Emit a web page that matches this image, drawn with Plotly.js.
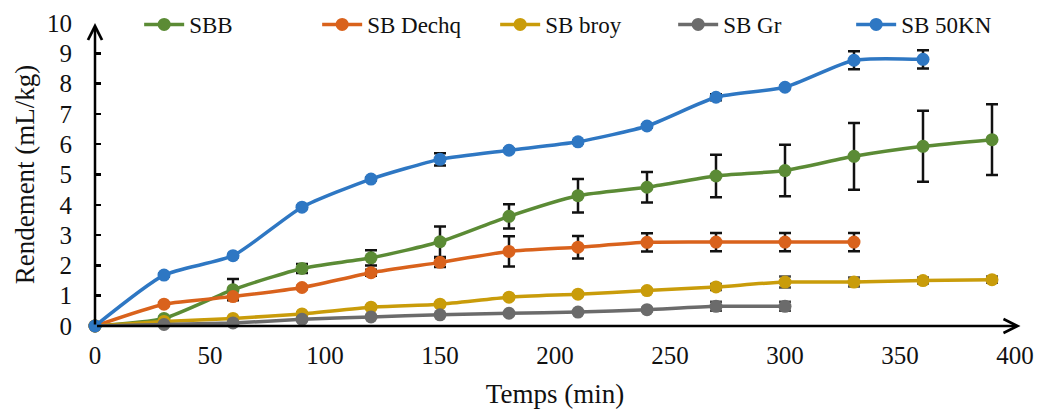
<!DOCTYPE html>
<html>
<head>
<meta charset="utf-8">
<script src="https://cdn.plot.ly/plotly-3.0.1.min.js"></script>
<style>html,body{margin:0;padding:0;background:#fff;}#chart{width:1042px;height:411px;}</style>
</head>
<body>
<div id="chart"></div>
<script>
// Time (min)
const time = [0, 30, 60, 90, 120, 150, 180, 210, 240, 270, 300, 330, 360, 390];

const seriesNames = ["SBB", "SB Dechq", "SB broy", "SB Gr", "SB 50KN"];

const sbb      = [0, 0.25, 1.2, 1.9, 2.25, 2.78, 3.62, 4.3, 4.58, 4.95, 5.13, 5.6, 5.93, 6.15];
const sbbErr   = [0, 0.05, 0.35, 0.15, 0.25, 0.5, 0.4, 0.55, 0.5, 0.7, 0.85, 1.1, 1.17, 1.17];

const dechq    = [0, 0.72, 0.97, 1.27, 1.76, 2.1, 2.46, 2.6, 2.76, 2.77, 2.77, 2.77];
const dechqErr = [0, 0.05, 0.05, 0.05, 0.1, 0.15, 0.5, 0.37, 0.3, 0.3, 0.3, 0.3];

const broy     = [0, 0.15, 0.25, 0.4, 0.62, 0.72, 0.95, 1.05, 1.17, 1.29, 1.45, 1.45, 1.5, 1.53];
const broyErr  = [0, 0.03, 0.03, 0.05, 0.05, 0.05, 0.05, 0.05, 0.05, 0.1, 0.18, 0.15, 0.1, 0.1];

const gr       = [0, 0.05, 0.1, 0.22, 0.3, 0.37, 0.42, 0.46, 0.54, 0.65, 0.65];
const grErr    = [0, 0.02, 0.02, 0.03, 0.03, 0.03, 0.03, 0.03, 0.05, 0.15, 0.15];

const kn50     = [0, 1.68, 2.32, 3.92, 4.85, 5.5, 5.8, 6.08, 6.6, 7.55, 7.88, 8.77, 8.8];
const kn50Err  = [0, 0.05, 0.05, 0.05, 0.05, 0.2, 0.05, 0.05, 0.05, 0.1, 0.05, 0.3, 0.3];

const colors = ["#5b8b35", "#d9621c", "#c99c0a", "#6b6b6b", "#2e77c3"];
const errColors = ["#111", "#111", "#4a4a4a", "#4a4a4a", "#111"];

const yTickVals = [0,1,2,3,4,5,6,7,8,9,10];
const xTickVals = [0,50,100,150,200,250,300,350,400];

const values = [sbb, dechq, broy, gr, kn50];
const errors = [sbbErr, dechqErr, broyErr, grErr, kn50Err];

const traces = values.map((v, i) => ({
  type: "scatter",
  mode: "lines+markers",
  name: seriesNames[i],
  x: time.slice(0, v.length),
  y: v,
  cliponaxis: false,
  line: {color: colors[i], width: 3.5, shape: "spline", smoothing: 0.6},
  marker: {color: colors[i], size: 13, symbol: "circle"},
  error_y: {type: "data", array: errors[i], visible: true, color: errColors[i], thickness: 2.5, width: 6}
}));

const fam = "Liberation Serif";
const tickFont = {family: fam, size: 25, color: "#111"};
const titleFont = {family: fam, size: 27, color: "#111"};
const legendFont = {family: fam, size: 23, color: "#111"};

const layout = {
  width: 1042, height: 411,
  margin: {l: 95, r: 27, t: 23, b: 85, autoexpand: false},
  paper_bgcolor: "#fff",
  plot_bgcolor: "#fff",
  font: tickFont,
  showlegend: true,
  legend: {
    orientation: "h",
    x: 0.048, y: 0.995, xanchor: "left", yanchor: "middle",
    font: legendFont,
    bgcolor: "rgba(0,0,0,0)",
    entrywidth: 123,
    itemwidth: 40,
    tracegroupgap: 0
  },
  xaxis: {
    range: [0, 400],
    tickvals: xTickVals,
    ticks: "",
    showgrid: false,
    zeroline: false,
    showline: false,
    tickfont: tickFont,
    automargin: false,
    ticklabelstandoff: 12,
    title: {text: "Temps (min)", font: titleFont, standoff: 16}
  },
  yaxis: {
    range: [0, 10],
    tickvals: yTickVals,
    ticks: "inside",
    ticklen: 6,
    tickwidth: 2.5,
    tickcolor: "#000",
    showgrid: false,
    zeroline: false,
    showline: false,
    tickfont: tickFont,
    automargin: false,
    ticklabelstandoff: 22,
    title: {text: "Rendement (mL/kg)", font: titleFont, standoff: 4}
  },
  annotations: [
    {xref: "paper", yref: "paper", x: 1.006, y: 0, ax: -925, ay: 0,
     showarrow: true, arrowhead: 5, arrowsize: 1.1, arrowwidth: 2.5, arrowcolor: "#000", text: "", standoff: 0},
    {xref: "paper", yref: "paper", x: 0, y: 1.0, ax: 0, ay: 303,
     showarrow: true, arrowhead: 5, arrowsize: 1.1, arrowwidth: 2.5, arrowcolor: "#000", text: "", standoff: 0}
  ]
};

Plotly.newPlot("chart", traces, layout, {displayModeBar: false, staticPlot: true});
</script>
</body>
</html>
